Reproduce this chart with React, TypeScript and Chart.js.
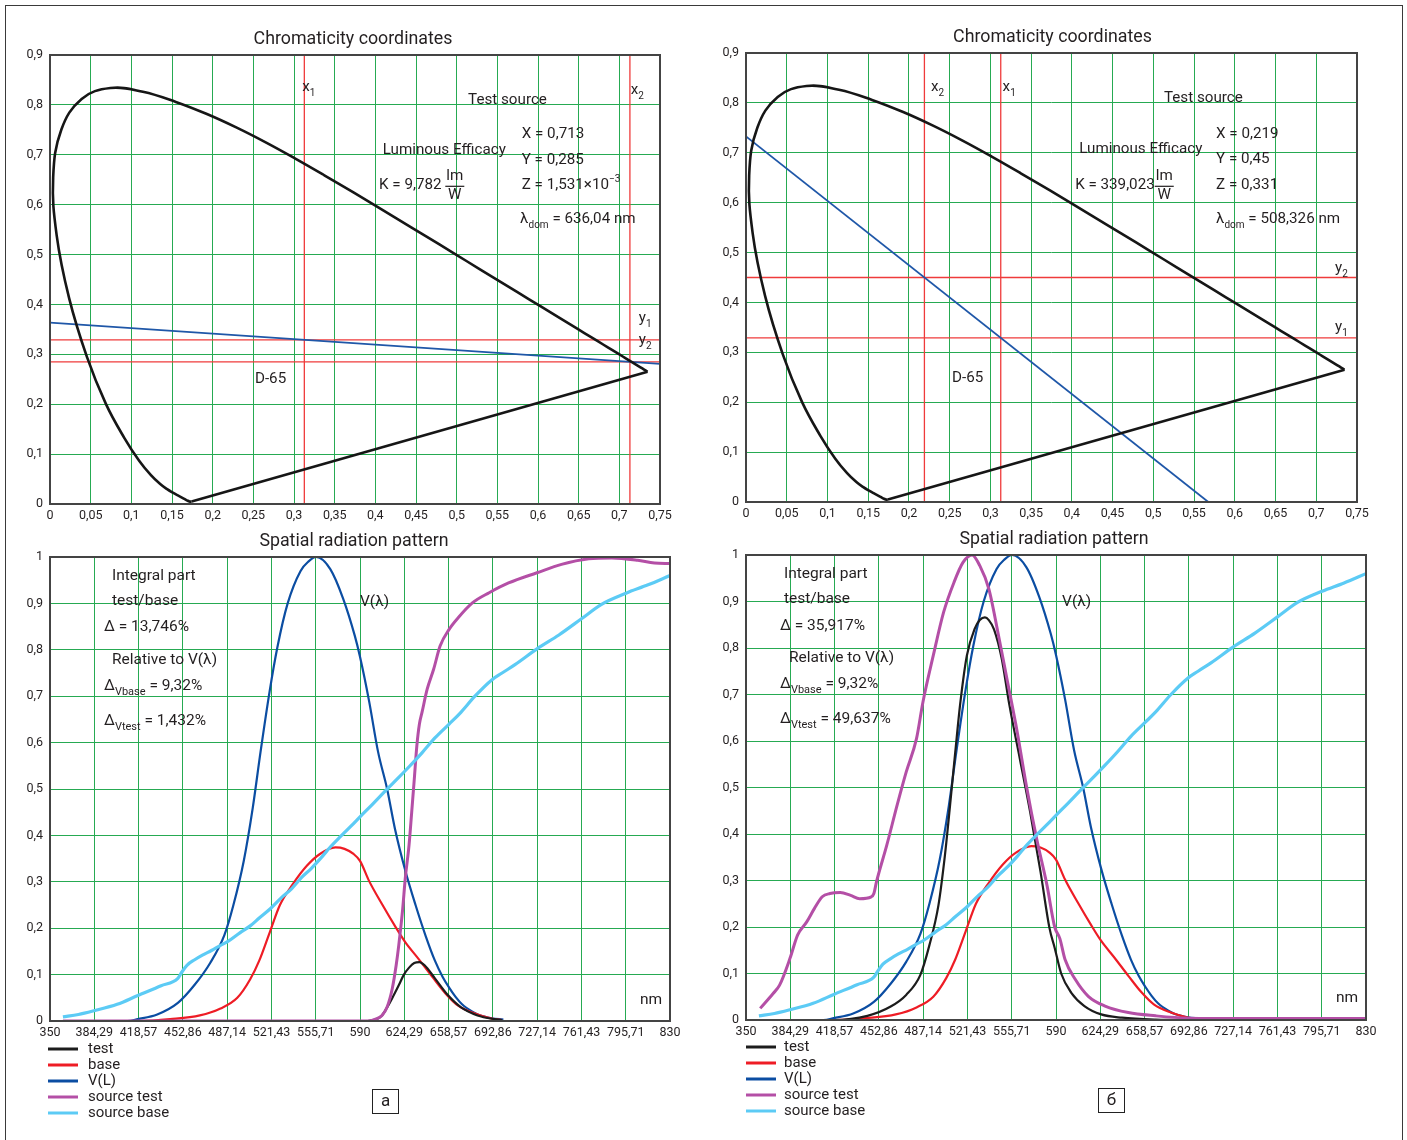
import React, { useEffect, useRef } from 'react';
import { Chart, registerables } from 'chart.js';
Chart.register(...registerables);

const FONT = 'Roboto, "Noto Sans", "DejaVu Sans", sans-serif';
const TEXT = '#231f20';
const GRID = 'rgb(38,170,82)';

// ---------- chromaticity (CIE 1931 spectral locus as drawn) ----------
const locusX = [0.1741, 0.1733, 0.1714, 0.1689, 0.1644, 0.1566, 0.151, 0.144, 0.1355, 0.1241, 0.1096, 0.0913, 0.0687, 0.0454, 0.0235, 0.0082, 0.0039, 0.0139, 0.0389, 0.0743, 0.1142, 0.1547, 0.1929, 0.2296, 0.2658, 0.3016, 0.3373, 0.3731, 0.4087, 0.4441, 0.4788, 0.5125, 0.5448, 0.5752, 0.6029, 0.627, 0.6482, 0.6658, 0.6801, 0.6915, 0.7006, 0.7079, 0.714, 0.719, 0.723, 0.726, 0.7283, 0.73, 0.732, 0.7334, 0.7344, 0.7347];
const locusY = [0.005, 0.0048, 0.0051, 0.0069, 0.0109, 0.0177, 0.0227, 0.0297, 0.0399, 0.0578, 0.0868, 0.1327, 0.2007, 0.295, 0.4127, 0.5384, 0.6548, 0.7502, 0.812, 0.8338, 0.8262, 0.8059, 0.7816, 0.7543, 0.7243, 0.6923, 0.6589, 0.6245, 0.5896, 0.5547, 0.5202, 0.4866, 0.4544, 0.4242, 0.3965, 0.3725, 0.3514, 0.334, 0.3197, 0.3083, 0.2993, 0.292, 0.2859, 0.2809, 0.277, 0.274, 0.2717, 0.27, 0.268, 0.2666, 0.2656, 0.2653];

const d65 = [0.3127, 0.329];
const testA = [0.713, 0.285];
const testB = [0.219, 0.45];

const chromaXTickLabels = ['0', '0,05', '0,1', '0,15', '0,2', '0,25', '0,3', '0,35', '0,4', '0,45', '0,5', '0,55', '0,6', '0,65', '0,7', '0,75'];
const chromaYTickLabels = ['0', '0,1', '0,2', '0,3', '0,4', '0,5', '0,6', '0,7', '0,8', '0,9'];

// ---------- spectra ----------
const specXTickLabels = ['350', '384,29', '418,57', '452,86', '487,14', '521,43', '555,71', '590', '624,29', '658,57', '692,86', '727,14', '761,43', '795,71', '830'];
const specYTickLabels = ['0', '0,1', '0,2', '0,3', '0,4', '0,5', '0,6', '0,7', '0,8', '0,9', '1'];

const vlNm = [360, 410, 418, 433, 449, 462, 474, 485, 492, 500, 507, 513, 520, 526, 534, 544, 550, 556, 567, 577, 586, 590, 597, 604, 611, 617, 625, 633, 641, 648, 654, 659, 664, 669, 677, 682, 692, 701];
const vlVal = [0, 0, 0.004, 0.014, 0.039, 0.078, 0.125, 0.185, 0.25, 0.345, 0.46, 0.58, 0.71, 0.805, 0.9, 0.97, 0.99, 1.0, 0.974, 0.91, 0.83, 0.785, 0.69, 0.58, 0.5, 0.415, 0.325, 0.25, 0.182, 0.13, 0.095, 0.072, 0.052, 0.036, 0.02, 0.013, 0.006, 0.003];

const baseNm = [360, 420, 443, 466, 482, 495, 505, 512, 520, 528, 538, 549, 559, 571, 578, 585, 590, 597, 607, 617, 625, 635, 646, 656, 666, 679, 692, 700];
const baseVal = [0, 0, 0.004, 0.012, 0.027, 0.05, 0.09, 0.13, 0.19, 0.25, 0.295, 0.335, 0.36, 0.374, 0.371, 0.36, 0.345, 0.302, 0.252, 0.205, 0.17, 0.135, 0.095, 0.06, 0.033, 0.016, 0.005, 0.002];

const testANm = [596, 602, 607, 612, 616, 620, 624, 628, 632, 636, 640, 648, 658, 668, 681, 694, 700];
const testAVal = [0, 0.003, 0.012, 0.034, 0.055, 0.077, 0.1, 0.115, 0.125, 0.127, 0.12, 0.092, 0.056, 0.03, 0.012, 0.004, 0.002];

const testBNm = [360, 418, 444, 462, 474, 485, 492, 499, 504, 508, 512, 516, 521, 527, 531, 535, 538, 542, 548, 554, 562, 570, 578, 585, 589, 594, 602, 612, 625, 641, 667, 700];
const testBVal = [0, 0, 0.009, 0.029, 0.054, 0.097, 0.161, 0.247, 0.354, 0.462, 0.576, 0.684, 0.784, 0.841, 0.86, 0.866, 0.86, 0.84, 0.777, 0.676, 0.562, 0.447, 0.319, 0.197, 0.155, 0.1, 0.058, 0.03, 0.012, 0.005, 0.001, 0];

const srcTestANm = [360, 597, 602, 607, 611, 615, 618, 620, 623, 625, 628, 630, 632, 634, 636, 638, 642, 647, 652, 659, 666, 677, 690, 705, 727, 746, 767, 785, 805, 818, 830];
const srcTestAVal = [0, 0, 0.004, 0.012, 0.03, 0.07, 0.12, 0.163, 0.24, 0.306, 0.38, 0.449, 0.52, 0.593, 0.64, 0.665, 0.715, 0.758, 0.808, 0.844, 0.869, 0.901, 0.923, 0.944, 0.966, 0.984, 0.996, 0.998, 0.993, 0.987, 0.986];

const srcTestBNm = [361, 371, 376, 384, 390, 397, 403, 409, 415, 423, 431, 438, 447, 449, 451, 459, 467, 474, 482, 487, 495, 503, 511, 518, 525, 531, 538, 545, 552, 560, 567, 575, 583, 589, 593, 597, 605, 615, 628, 646, 667, 692, 740, 830];
const srcTestBVal = [0.025, 0.057, 0.075, 0.132, 0.183, 0.211, 0.24, 0.265, 0.272, 0.274, 0.268, 0.261, 0.265, 0.272, 0.297, 0.376, 0.462, 0.533, 0.605, 0.684, 0.784, 0.877, 0.941, 0.984, 1.0, 0.977, 0.927, 0.834, 0.734, 0.619, 0.505, 0.39, 0.29, 0.2, 0.175, 0.13, 0.087, 0.051, 0.03, 0.016, 0.009, 0.004, 0.003, 0.003];

const srcBaseNm = [360, 372, 384, 402, 418, 436, 449, 452, 456, 462, 468, 475, 482, 488, 497, 505, 512, 521, 530, 537, 545, 552, 560, 567, 575, 583, 590, 600, 610, 620, 628, 638, 648, 659, 667, 679, 692, 700, 710, 727, 744, 762, 777, 796, 813, 830];
const srcBaseVal = [0.009, 0.014, 0.022, 0.036, 0.055, 0.076, 0.092, 0.105, 0.12, 0.132, 0.142, 0.152, 0.163, 0.172, 0.19, 0.205, 0.222, 0.243, 0.268, 0.285, 0.31, 0.328, 0.352, 0.375, 0.398, 0.42, 0.44, 0.468, 0.497, 0.525, 0.548, 0.578, 0.61, 0.64, 0.662, 0.7, 0.735, 0.75, 0.768, 0.802, 0.832, 0.868, 0.898, 0.922, 0.94, 0.96];

const seriesNames = ['test', 'base', 'V(L)', 'source test', 'source base'];
const seriesColors = ['#1c1c1c', '#ee1c25', '#0b4da2', '#b44fa6', '#5ccbf5'];
const seriesWidths = [2.2, 2.2, 2.2, 3, 3.2];

// ---------- helpers ----------
const num = (l: string) => parseFloat(l.replace(',', '.'));
const pairs = (xs: number[], ys: number[]) => xs.map((x, i) => ({ x, y: ys[i] }));

type Seg = { t: string; k?: 'sub' | 'sup' } | { num: string; den: string };
type Note = { x: number; y: number; segs: Seg[]; size?: number };

function drawSegs(ctx: CanvasRenderingContext2D, x: number, y: number, segs: Seg[], size: number) {
  let cx = x;
  ctx.textBaseline = 'middle';
  for (const s of segs) {
    if ('num' in s) {
      ctx.font = `${size}px ${FONT}`;
      const w = Math.max(ctx.measureText(s.num).width, ctx.measureText(s.den).width) + 2;
      ctx.textAlign = 'center';
      ctx.fillText(s.num, cx + w / 2, y - size * 0.62);
      ctx.fillText(s.den, cx + w / 2, y + size * 0.68);
      ctx.fillRect(cx, y + 0.5, w, 1.2);
      ctx.textAlign = 'left';
      cx += w + 2;
    } else if (s.k === 'sub' || s.k === 'sup') {
      ctx.font = `${Math.round(size * 0.68)}px ${FONT}`;
      ctx.fillText(s.t, cx, y + (s.k === 'sub' ? size * 0.42 : -size * 0.4));
      cx += ctx.measureText(s.t).width;
    } else {
      ctx.font = `${size}px ${FONT}`;
      ctx.fillText(s.t, cx, y);
      cx += ctx.measureText(s.t).width;
    }
  }
}

type Decor = {
  title: string;
  titleDx: number;
  notes: Note[];
  noteSize: number;
  legend?: { lx: number; tx: number; dy: number; box: string; bx: number };
};

function decorPlugin(d: Decor) {
  return {
    id: 'decor',
    afterDraw(chart: any) {
      const ctx: CanvasRenderingContext2D = chart.ctx;
      const a = chart.chartArea;
      const xs = chart.scales.x;
      const ys = chart.scales.y;
      ctx.save();
      ctx.strokeStyle = '#444';
      ctx.lineWidth = 2;
      ctx.strokeRect(a.left, a.top, a.right - a.left, a.bottom - a.top);
      ctx.fillStyle = TEXT;
      ctx.font = `17.8px ${FONT}`;
      ctx.textAlign = 'center';
      ctx.textBaseline = 'middle';
      ctx.fillText(d.title, (a.left + a.right) / 2 + d.titleDx, a.top - 15);
      ctx.textAlign = 'left';
      for (const n of d.notes) {
        drawSegs(ctx, xs.getPixelForValue(n.x), ys.getPixelForValue(n.y), n.segs, n.size || d.noteSize);
      }
      if (d.legend) {
        const L = d.legend;
        seriesNames.forEach((name, i) => {
          const y = a.bottom + L.dy + i * 16;
          ctx.strokeStyle = seriesColors[i];
          ctx.lineWidth = 3;
          ctx.beginPath();
          ctx.moveTo(a.left + L.lx, y);
          ctx.lineTo(a.left + L.lx + 30, y);
          ctx.stroke();
          ctx.fillStyle = TEXT;
          ctx.font = `15px ${FONT}`;
          ctx.textBaseline = 'middle';
          ctx.fillText(name, a.left + L.tx, y);
        });
        ctx.strokeStyle = '#222';
        ctx.lineWidth = 1;
        ctx.strokeRect(a.left + L.bx + 0.5, a.bottom + 68.5, 26, 24);
        ctx.textAlign = 'center';
        ctx.font = `17px ${FONT}`;
        ctx.fillText(L.box, a.left + L.bx + 13.5, a.bottom + 81);
      }
      ctx.restore();
    },
  };
}

function axis(labels: string[], min: number, max: number, isX: boolean) {
  return {
    type: 'linear',
    min,
    max,
    afterBuildTicks: (s: any) => {
      s.ticks = labels.map((l) => ({ value: num(l) }));
    },
    afterFit: (s: any) => {
      if (isX) s.height = 22;
      else s.width = 40;
    },
    ticks: {
      callback: (_v: any, i: number) => labels[i],
      font: { family: FONT, size: 12.5 },
      color: TEXT,
      padding: isX ? 4 : 7,
      maxRotation: 0,
      autoSkip: false,
    },
    grid: { color: GRID, lineWidth: 1, drawTicks: false },
    border: { display: false },
  };
}

function domLine(p: number[], q: number[], xmax: number) {
  const m = (q[1] - p[1]) / (q[0] - p[0]);
  const y0 = p[1] - m * p[0];
  let ex = xmax;
  let ey = y0 + m * xmax;
  if (ey < 0) {
    ex = -y0 / m;
    ey = 0;
  }
  return [{ x: 0, y: y0 }, { x: ex, y: ey }];
}

function lineDs(data: any[], color: string, width: number, extra: any = {}) {
  return { data, borderColor: color, backgroundColor: color, borderWidth: width, pointRadius: 0, showLine: true, fill: false, tension: 0, ...extra };
}

function chromaConfig(test: number[], padding: any, decor: Decor) {
  const locus = pairs(locusX, locusY);
  const purple = [locus[locus.length - 1], locus[0]];
  const xmax = num(chromaXTickLabels[chromaXTickLabels.length - 1]);
  const ymax = num(chromaYTickLabels[chromaYTickLabels.length - 1]);
  const red = '#ef3b3b';
  return {
    type: 'scatter',
    data: {
      datasets: [
        lineDs(locus, '#161616', 2.6, { tension: 0.4, borderJoinStyle: 'round' }),
        lineDs(purple, '#161616', 2.6),
        lineDs(domLine(d65, test, xmax), '#1f57a8', 1.8),
        lineDs([{ x: d65[0], y: 0 }, { x: d65[0], y: ymax }], red, 1.3),
        lineDs([{ x: test[0], y: 0 }, { x: test[0], y: ymax }], red, 1.3),
        lineDs([{ x: 0, y: d65[1] }, { x: xmax, y: d65[1] }], red, 1.3),
        lineDs([{ x: 0, y: test[1] }, { x: xmax, y: test[1] }], red, 1.3),
      ],
    },
    options: {
      responsive: false,
      animation: false,
      events: [],
      layout: { padding },
      scales: { x: axis(chromaXTickLabels, 0, xmax, true), y: axis(chromaYTickLabels, 0, ymax, false) },
      plugins: { legend: { display: false }, tooltip: { enabled: false }, title: { display: false } },
    },
    plugins: [decorPlugin(decor)],
  };
}

function specConfig(testNm: number[], testVal: number[], srcNm: number[], srcVal: number[], padding: any, decor: Decor) {
  const smooth = { cubicInterpolationMode: 'monotone' };
  return {
    type: 'scatter',
    data: {
      datasets: [
        lineDs(pairs(srcBaseNm, srcBaseVal), seriesColors[4], seriesWidths[4], smooth),
        lineDs(pairs(srcNm, srcVal), seriesColors[3], seriesWidths[3], smooth),
        lineDs(pairs(testNm, testVal), seriesColors[0], seriesWidths[0], smooth),
        lineDs(pairs(baseNm, baseVal), seriesColors[1], seriesWidths[1], smooth),
        lineDs(pairs(vlNm, vlVal), seriesColors[2], seriesWidths[2], smooth),
      ],
    },
    options: {
      responsive: false,
      animation: false,
      events: [],
      layout: { padding },
      scales: {
        x: axis(specXTickLabels, num(specXTickLabels[0]), num(specXTickLabels[specXTickLabels.length - 1]), true),
        y: axis(specYTickLabels, 0, 1, false),
      },
      plugins: { legend: { display: false }, tooltip: { enabled: false }, title: { display: false } },
    },
    plugins: [decorPlugin(decor)],
  };
}

const t = (s: string): Seg => ({ t: s });
const sub = (s: string): Seg => ({ t: s, k: 'sub' });
const sup = (s: string): Seg => ({ t: s, k: 'sup' });

const configs = [
  chromaConfig(testA, { left: 10, top: 55, right: 747, bottom: 614 }, {
    title: 'Chromaticity coordinates',
    titleDx: -2,
    noteSize: 15.2,
    notes: [
      { x: 0.514, y: 0.81, segs: [t('Test source')] },
      { x: 0.58, y: 0.742, segs: [t('X = 0,713')] },
      { x: 0.58, y: 0.69, segs: [t('Y = 0,285')] },
      { x: 0.58, y: 0.639, segs: [t('Z = 1,531×10'), sup('−3')] },
      { x: 0.578, y: 0.571, segs: [t('λ'), sub('dom'), t(' = 636,04 nm')] },
      { x: 0.409, y: 0.71, segs: [t('Luminous Efficacy')] },
      { x: 0.4045, y: 0.639, segs: [t('K = 9,782 '), { num: 'lm', den: 'W' }] },
      { x: 0.252, y: 0.25, segs: [t('D-65')] },
      { x: 0.31, y: 0.835, segs: [t('x'), sub('1')] },
      { x: 0.714, y: 0.83, segs: [t('x'), sub('2')] },
      { x: 0.724, y: 0.373, segs: [t('y'), sub('1')] },
      { x: 0.724, y: 0.329, segs: [t('y'), sub('2')] },
    ],
  }),
  chromaConfig(testB, { left: 706, top: 53, right: 50, bottom: 616 }, {
    title: 'Chromaticity coordinates',
    titleDx: 1,
    noteSize: 15.2,
    notes: [
      { x: 0.513, y: 0.81, segs: [t('Test source')] },
      { x: 0.577, y: 0.738, segs: [t('X = 0,219')] },
      { x: 0.577, y: 0.687, segs: [t('Y = 0,45')] },
      { x: 0.577, y: 0.635, segs: [t('Z = 0,331')] },
      { x: 0.577, y: 0.567, segs: [t('λ'), sub('dom'), t(' = 508,326 nm')] },
      { x: 0.409, y: 0.708, segs: [t('Luminous Efficacy')] },
      { x: 0.404, y: 0.635, segs: [t('K = 339,023'), { num: 'lm', den: 'W' }] },
      { x: 0.253, y: 0.249, segs: [t('D-65')] },
      { x: 0.227, y: 0.832, segs: [t('x'), sub('2')] },
      { x: 0.315, y: 0.832, segs: [t('x'), sub('1')] },
      { x: 0.723, y: 0.469, segs: [t('y'), sub('2')] },
      { x: 0.723, y: 0.351, segs: [t('y'), sub('1')] },
    ],
  }),
  specConfig(testANm, testAVal, srcTestANm, srcTestAVal, { left: 10, top: 557, right: 737, bottom: 97 }, {
    title: 'Spatial radiation pattern',
    titleDx: -6,
    noteSize: 15.5,
    notes: [
      { x: 398, y: 0.959, segs: [t('Integral part')] },
      { x: 398, y: 0.905, segs: [t('test/base')] },
      { x: 391.8, y: 0.849, segs: [t('Δ = 13,746%')] },
      { x: 398, y: 0.778, segs: [t('Relative to V(λ)')] },
      { x: 391.8, y: 0.722, segs: [t('Δ'), sub('Vbase'), t(' = 9,32%')] },
      { x: 391.8, y: 0.647, segs: [t('Δ'), sub('Vtest'), t(' = 1,432%')] },
      { x: 590, y: 0.903, segs: [t('V(λ)')] },
      { x: 806.8, y: 0.045, segs: [t('nm')] },
    ],
    legend: { lx: -2, tx: 38, dy: 28, box: 'а', bx: 322 },
  }),
  specConfig(testBNm, testBVal, srcTestBNm, srcTestBVal, { left: 706, top: 555, right: 41, bottom: 98 }, {
    title: 'Spatial radiation pattern',
    titleDx: -2,
    noteSize: 15.5,
    notes: [
      { x: 379.4, y: 0.959, segs: [t('Integral part')] },
      { x: 379.4, y: 0.905, segs: [t('test/base')] },
      { x: 376.3, y: 0.847, segs: [t('Δ = 35,917%')] },
      { x: 383.3, y: 0.778, segs: [t('Relative to V(λ)')] },
      { x: 376.3, y: 0.723, segs: [t('Δ'), sub('Vbase'), t(' = 9,32%')] },
      { x: 376.3, y: 0.647, segs: [t('Δ'), sub('Vtest'), t(' = 49,637%')] },
      { x: 594.7, y: 0.899, segs: [t('V(λ)')] },
      { x: 806.8, y: 0.047, segs: [t('nm')] },
    ],
    legend: { lx: 0, tx: 38, dy: 27, box: 'б', bx: 352 },
  }),
];

export default function App() {
  const refs = useRef<(HTMLCanvasElement | null)[]>([]);
  useEffect(() => {
    const charts = configs.map((cfg, i) => new Chart(refs.current[i] as HTMLCanvasElement, cfg as any));
    return () => charts.forEach((c) => c.destroy());
  }, []);
  return (
    <div style={{ position: 'absolute', left: 0, top: 0, width: 1407, height: 1140, background: '#fff', overflow: 'hidden' }}>
      <div style={{ position: 'absolute', left: 5, top: 5, width: 1396, height: 1140, border: '1px solid #3a3a3a', borderBottom: 'none' }} />
      {configs.map((_, i) => (
        <canvas
          key={i}
          ref={(el) => {
            refs.current[i] = el;
          }}
          width={1407}
          height={1140}
          style={{ position: 'absolute', left: 0, top: 0, width: 1407, height: 1140 }}
        />
      ))}
    </div>
  );
}
